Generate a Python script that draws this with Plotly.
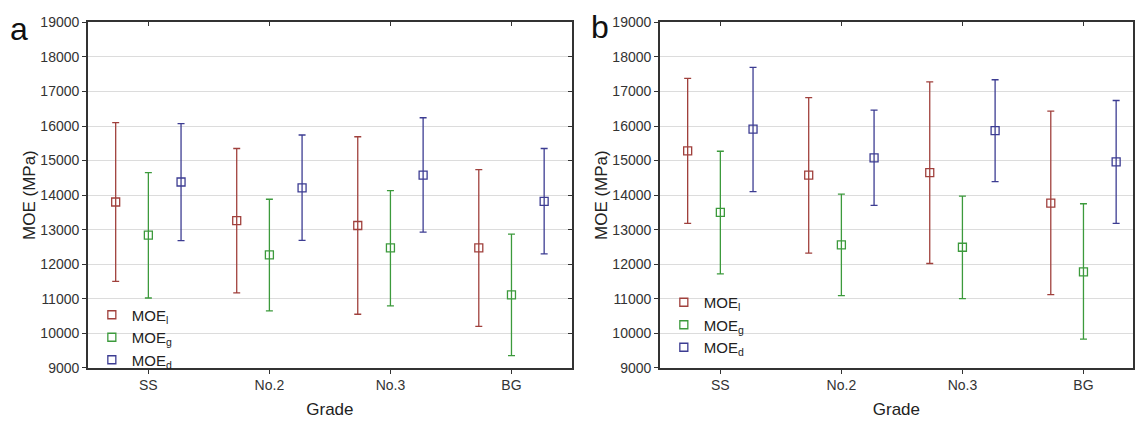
import plotly.graph_objects as go

grades = ["SS", "No.2", "No.3", "BG"]
series_names = ["MOE<sub>l</sub>", "MOE<sub>g</sub>", "MOE<sub>d</sub>"]
colors = ["#A0403C", "#3C9A3C", "#3C3C92"]

# Panel a: means, upper and lower whisker ends (MPa)
a_mean = {
    "l": [13800, 13260, 13120, 12470],
    "g": [12840, 12270, 12470, 11110],
    "d": [14380, 14210, 14580, 13820],
}
a_upper = {
    "l": [16100, 15350, 15690, 14740],
    "g": [14650, 13880, 14130, 12870],
    "d": [16070, 15740, 16240, 15350],
}
a_lower = {
    "l": [11500, 11170, 10550, 10200],
    "g": [11020, 10650, 10790, 9350],
    "d": [12680, 12690, 12930, 12300],
}

# Panel b
b_mean = {
    "l": [15280, 14580, 14650, 13770],
    "g": [13500, 12560, 12490, 11780],
    "d": [15910, 15080, 15870, 14960],
}
b_upper = {
    "l": [17380, 16820, 17280, 16430],
    "g": [15270, 14030, 13970, 13750],
    "d": [17700, 16460, 17340, 16740],
}
b_lower = {
    "l": [13180, 12320, 12020, 11120],
    "g": [11720, 11090, 11000, 9830],
    "d": [14100, 13700, 14390, 13180],
}

keys = ["l", "g", "d"]
offsets = [-0.27, 0.0, 0.27]

W, H = 1135, 421
FONT = "Liberation Sans, Arial, sans-serif"

fig = go.Figure()

panels = [
    ("x", "y", "legend", a_mean, a_upper, a_lower),
    ("x2", "y2", "legend2", b_mean, b_upper, b_lower),
]

for xa, ya, lg, mean, up, lo in panels:
    for k, name, col, off in zip(keys, series_names, colors, offsets):
        xs = [i + off for i in range(len(grades))]
        m = mean[k]
        fig.add_trace(go.Scatter(
            x=xs, y=m, mode="markers", name=name,
            xaxis=xa, yaxis=ya, legend=lg,
            marker=dict(symbol="square-open", size=8, color=col,
                        line=dict(width=1.3, color=col)),
            error_y=dict(type="data", symmetric=False,
                         array=[u - v for u, v in zip(up[k], m)],
                         arrayminus=[v - l for v, l in zip(m, lo[k])],
                         color=col, thickness=1.3, width=3.5),
        ))

ydom = [1 - 374 / H, 1 - 15 / H]
xdom_a = [88 / W, 573 / W]
xdom_b = [661 / W, 1.0]
xr_a = [-0.5, 3.5]
xr_b = [-0.5, 3.5 - (1146 - 1135) / 121.25]

tickfont = dict(family=FONT, size=14, color="#333333")
titlefont = dict(family=FONT, size=17, color="#222222")

def xaxis(dom, rng, anchor):
    return dict(domain=dom, range=rng, tickvals=list(range(len(grades))),
                ticktext=grades, showgrid=False, zeroline=False,
                showline=True, linecolor="#333333", linewidth=1.5, mirror=True,
                ticks="outside", ticklen=4, tickcolor="#333333",
                tickfont=tickfont, title=dict(text="Grade", font=titlefont, standoff=11),
                anchor=anchor, fixedrange=True)

def yaxis(dom, anchor):
    return dict(domain=dom, range=[9000, 19000], dtick=1000, tickformat="d",
                showgrid=True, gridcolor="#DCDCDC", gridwidth=1, zeroline=False,
                showline=True, linecolor="#333333", linewidth=1.5, mirror=True,
                ticks="outside", ticklen=4, tickcolor="#333333",
                tickfont=tickfont, anchor=anchor,
                title=dict(text="MOE (MPa)", font=titlefont, standoff=0),
                fixedrange=True)

legend_common = dict(font=dict(family=FONT, size=15, color="#222222"),
                     bgcolor="rgba(0,0,0,0)", borderwidth=0,
                     xanchor="left", yanchor="top", tracegroupgap=0,
                     itemwidth=30)

fig.update_layout(
    width=W, height=H, margin=dict(l=0, r=0, t=0, b=0),
    paper_bgcolor="white", plot_bgcolor="white",
    showlegend=True,
    xaxis=xaxis(xdom_a, xr_a, "y"), yaxis=yaxis(ydom, "x"),
    xaxis2=xaxis(xdom_b, xr_b, "y2"), yaxis2=yaxis(ydom, "x2"),
    # overlay axes giving the inward ticks on top and right edges
    xaxis3=dict(overlaying="x", side="top", anchor="y", range=xr_a,
                tickvals=list(range(len(grades))), showticklabels=False,
                ticks="inside", ticklen=4, tickcolor="#333333",
                showgrid=False, zeroline=False, showline=False, fixedrange=True),
    xaxis4=dict(overlaying="x2", side="top", anchor="y2", range=xr_b,
                tickvals=list(range(len(grades))), showticklabels=False,
                ticks="inside", ticklen=4, tickcolor="#333333",
                showgrid=False, zeroline=False, showline=False, fixedrange=True),
    yaxis3=dict(overlaying="y", side="right", anchor="x", range=[9000, 19000],
                dtick=1000, showticklabels=False, ticks="inside", ticklen=4,
                tickcolor="#333333", showgrid=False, zeroline=False,
                showline=False, fixedrange=True),
    legend=dict(x=92 / W, y=1 - 302 / H, **legend_common),
    legend2=dict(x=665 / W, y=1 - 289 / H, **legend_common),
    annotations=[
        dict(text="a", x=19 / W, y=1 - 22 / H, xref="paper", yref="paper",
             showarrow=False, font=dict(family=FONT, size=32, color="#111111"),
             xanchor="center", yanchor="middle"),
        dict(text="b", x=601 / W, y=1 - 20 / H, xref="paper", yref="paper",
             showarrow=False, font=dict(family=FONT, size=32, color="#111111"),
             xanchor="center", yanchor="middle"),
    ],
)

# invisible helper traces so the overlay tick axes are drawn
fig.add_trace(go.Scatter(x=[None], y=[None], xaxis="x3", yaxis="y", showlegend=False, hoverinfo="skip"))
fig.add_trace(go.Scatter(x=[None], y=[None], xaxis="x4", yaxis="y2", showlegend=False, hoverinfo="skip"))
fig.add_trace(go.Scatter(x=[None], y=[None], xaxis="x", yaxis="y3", showlegend=False, hoverinfo="skip"))

fig.write_html("out.html")
